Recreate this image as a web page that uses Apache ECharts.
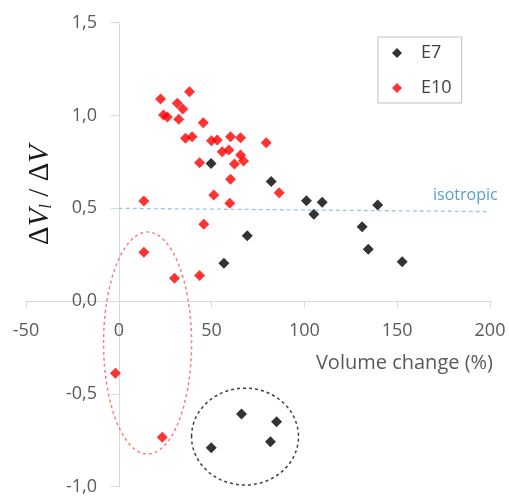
<!DOCTYPE html>
<html><head><meta charset="utf-8">
<script src="https://cdn.jsdelivr.net/npm/echarts@6/dist/echarts.min.js"></script>
<style>html,body{margin:0;padding:0;background:#fff}#c{width:509px;height:499px}</style>
</head><body><div id="c"></div>
<script>
// E7 series (volume change %, dVl/dV)
const e7X = [49.7, 82.1, 69.2, 56.6, 101.1, 109.6, 105.1, 139.5, 131.1, 134.4, 152.7, 66.1, 85.0, 81.7, 49.8];
const e7Y = [0.742, 0.644, 0.352, 0.204, 0.541, 0.532, 0.468, 0.518, 0.401, 0.279, 0.212, -0.608, -0.650, -0.758, -0.790];
// E10 series
const e10X = [22.5, 38.1, 31.5, 34.5, 24.1, 26.2, 32.3, 45.5, 35.9, 39.5, 49.9, 53.0, 60.2, 65.6, 79.4, 55.7, 59.3, 65.6, 67.2, 62.3, 43.5, 60.2, 86.4, 51.2, 59.8, 13.5, 45.8, 13.5, 30.0, 43.5, -1.8, 23.4];
const e10Y = [1.089, 1.128, 1.066, 1.035, 1.003, 0.992, 0.980, 0.961, 0.877, 0.886, 0.864, 0.868, 0.886, 0.880, 0.853, 0.805, 0.814, 0.787, 0.755, 0.739, 0.746, 0.656, 0.584, 0.572, 0.527, 0.539, 0.414, 0.263, 0.123, 0.138, -0.389, -0.734];
// annotation ellipses (data units): centre x, centre y, radius x, radius y
const ellCx = [15.5, 68.0];
const ellCy = [-0.226, -0.730];
const ellRx = [23.7, 28.8];
const ellRy = [0.598, 0.261];
const ellColor = ['#ff7c7c', '#404040'];
// isotropic reference line
const isoStart = [0, 0.5];
const isoEnd = [200, 0.482];
// axis ranges
const xMin = -50, xMax = 200, xStep = 50;
const yMin = -1, yMax = 1.5, yStep = 0.5;

const FONT = 'Open Sans';
const chart = echarts.init(document.getElementById('c'), null, {renderer: 'canvas'});
const pair = (xs, ys) => xs.map((x, i) => [x, ys[i]]);

chart.setOption({
  animation: false,
  backgroundColor: '#fff',
  grid: {left: 26, right: 19, top: 22.7, bottom: 12.3, containLabel: false, outerBoundsMode: 'none'},
  xAxis: {
    type: 'value', min: xMin, max: xMax, interval: xStep,
    axisLine: {show: true, onZero: true, lineStyle: {color: '#d9d9d9', width: 1}},
    axisTick: {show: true, length: 7, lineStyle: {color: '#d9d9d9'}},
    splitLine: {show: false},
    axisLabel: {fontFamily: FONT, fontSize: 18, color: '#595959', margin: -165},
    name: 'Volume change (%)', nameLocation: 'end', nameGap: 3,
    nameTextStyle: {fontFamily: FONT, fontSize: 20, color: '#595959', align: 'right', verticalAlign: 'top', padding: [52, 0, 0, 0]}
  },
  yAxis: {
    type: 'value', min: yMin, max: yMax, interval: yStep,
    axisLine: {show: true, onZero: true, lineStyle: {color: '#d9d9d9', width: 1}},
    axisTick: {show: true, length: 8, lineStyle: {color: '#d9d9d9'}},
    splitLine: {show: false},
    axisLabel: {fontFamily: FONT, fontSize: 18, color: '#595959', margin: -71,
      formatter: v => v.toFixed(1).replace('.', ',')}
  },
  legend: {
    data: ['E7', 'E10'], orient: 'vertical', left: 378, top: 37,
    padding: [6, 10, 5, 14], borderColor: '#bfbfbf', borderWidth: 1,
    itemWidth: 10, itemHeight: 10, itemGap: 15, icon: 'diamond',
    textStyle: {fontFamily: FONT, fontSize: 18, color: '#404040', padding: [0, 0, 0, 14], lineHeight: 20}
  },
  graphic: [
    {type: 'text', x: 40, y: 195, rotation: Math.PI / 2,
     style: {text: '{d|Δ}{v|V}{s|l}{d| / Δ}{v|V}', align: 'center', verticalAlign: 'middle',
       rich: {
         d: {fontFamily: 'Liberation Serif', fontSize: 29, lineHeight: 30, fill: '#1a1a1a', verticalAlign: 'middle'},
         v: {fontFamily: 'Liberation Serif', fontStyle: 'italic', fontSize: 29, lineHeight: 30, fill: '#1a1a1a', verticalAlign: 'middle'},
         s: {fontFamily: 'Liberation Serif', fontStyle: 'italic', fontSize: 17, lineHeight: 14, fill: '#1a1a1a', verticalAlign: 'bottom'}
       }}},
    {type: 'text', x: 433, y: 187, style: {text: 'isotropic', fontFamily: FONT, fontSize: 16, fill: '#5b9bd5'}}
  ],
  series: [
    {
      type: 'custom', name: 'ellipses', silent: true, z: 1,
      data: ellCx.map((c, i) => [c, ellCy[i], ellRx[i], ellRy[i]]),
      renderItem: (params, api) => {
        const c = api.coord([api.value(0), api.value(1)]);
        const s = api.size([api.value(2), api.value(3)]);
        return {type: 'ellipse', shape: {cx: c[0], cy: c[1], rx: s[0], ry: s[1]},
          style: {fill: 'none', stroke: ellColor[params.dataIndex], lineWidth: 1.5, lineDash: [3, 3]}};
      }
    },
    {
      type: 'scatter', name: 'E7', symbol: 'diamond', symbolSize: 11, z: 3,
      itemStyle: {color: '#000000'}, data: pair(e7X, e7Y),
      markLine: {
        silent: true, symbol: ['none', 'none'], animation: false,
        lineStyle: {color: '#9dc3e6', type: [4, 3], width: 1.3},
        label: {show: false},
        data: [[{coord: isoStart}, {coord: isoEnd}]]
      }
    },
    {
      type: 'scatter', name: 'E10', symbol: 'diamond', symbolSize: 11, z: 3,
      itemStyle: {color: '#ff0000'}, data: pair(e10X, e10Y)
    }
  ]
});
</script></body></html>
